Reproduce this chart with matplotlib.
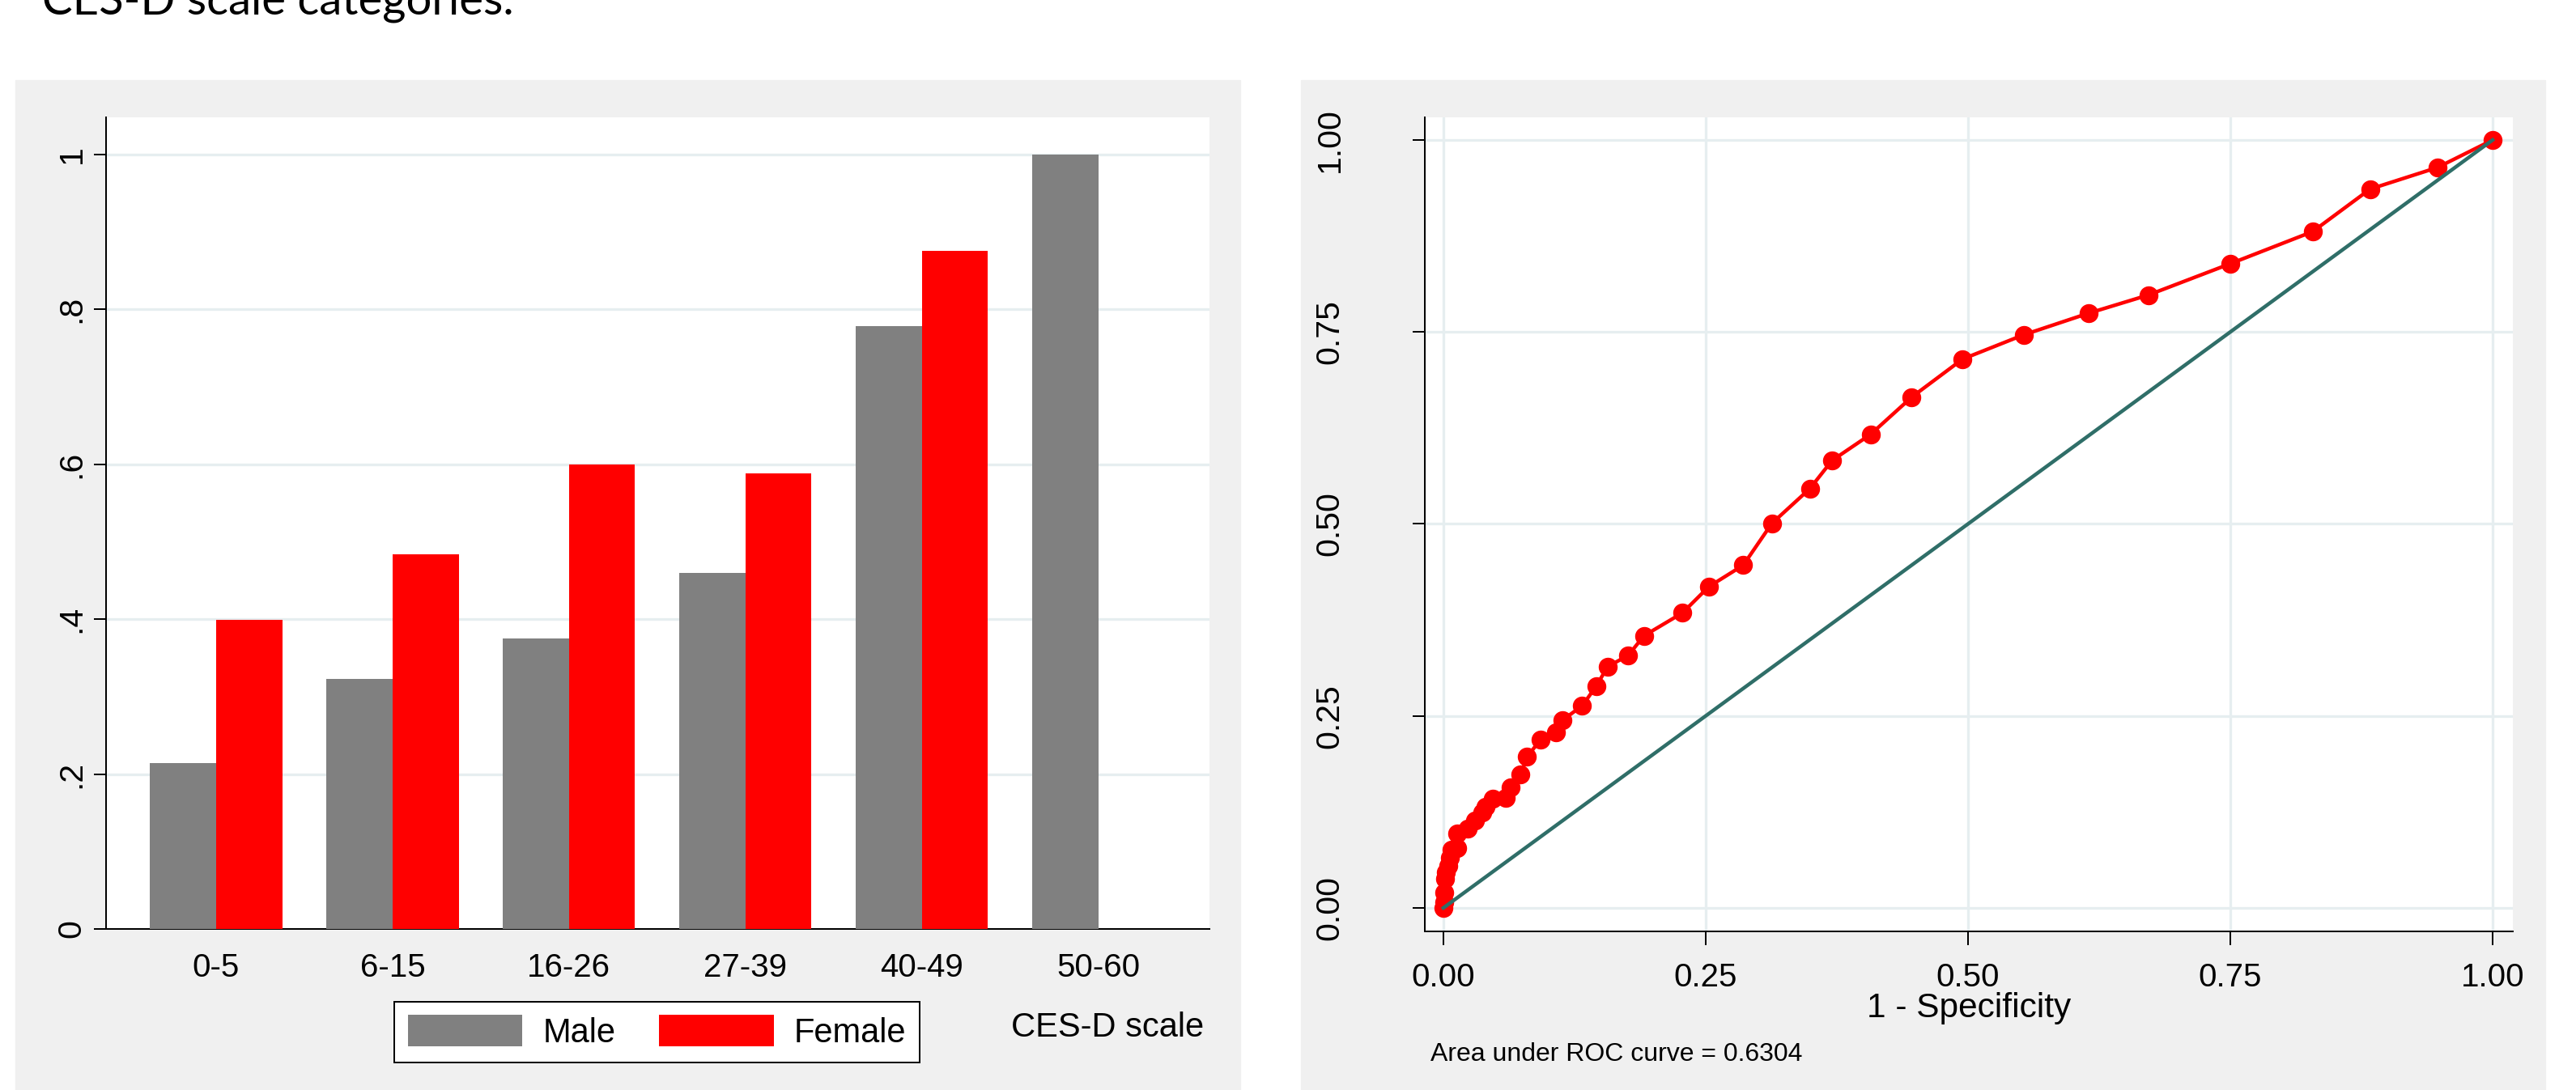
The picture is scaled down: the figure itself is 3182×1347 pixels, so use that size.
import numpy as np
import matplotlib
matplotlib.use("Agg")
import matplotlib.pyplot as plt
from matplotlib.patches import Rectangle, Patch

# data
categories = ["0-5", "6-15", "16-26", "27-39", "40-49", "50-60"]
male = [0.214, 0.323, 0.375, 0.460, 0.778, 1.0]
female = [0.399, 0.484, 0.600, 0.588, 0.876, np.nan]
y_ticks_left = [0, 0.2, 0.4, 0.6, 0.8, 1.0]
y_labels_left = ["0", ".2", ".4", ".6", ".8", "1"]

fpr = [0, 0.0008, 0.0008, 0.0016, 0.0023, 0.0047, 0.0063, 0.0078, 0.0133, 0.0133,
       0.0235, 0.0305, 0.0368, 0.0399, 0.047, 0.0595, 0.0642, 0.0736, 0.0799, 0.0924,
       0.1073, 0.1135, 0.1323, 0.1457, 0.1566, 0.1762, 0.1911, 0.2279, 0.2529, 0.2858,
       0.3132, 0.3493, 0.3704, 0.4072, 0.4464, 0.4949, 0.5529, 0.6147, 0.6719, 0.7502,
       0.8285, 0.8833, 0.9475, 1.0]
tpr = [0, 0.0077, 0.0204, 0.0375, 0.046, 0.0545, 0.0656, 0.0758, 0.0784, 0.0971,
       0.1031, 0.1141, 0.1244, 0.1312, 0.1422, 0.1430, 0.1567, 0.1738, 0.1968, 0.2189,
       0.2291, 0.2445, 0.2632, 0.2888, 0.3143, 0.3288, 0.3543, 0.3842, 0.4182, 0.4463,
       0.5009, 0.546, 0.5826, 0.6167, 0.6652, 0.7147, 0.7462, 0.7743, 0.7981, 0.839,
       0.8807, 0.9361, 0.9642, 1.0]
roc_ticks = [0, 0.25, 0.5, 0.75, 1.0]
roc_labels = ["0.00", "0.25", "0.50", "0.75", "1.00"]
auc = 0.6304

font = ["Liberation Sans", "DejaVu Sans"]

W, H = 3182, 1347
fig = plt.figure(figsize=(W / 100, H / 100), dpi=100)
fig.patch.set_facecolor("white")

panel_gray = "#f0f0f0"
grid_col = "#e6eef0"
for x0, x1 in [(19, 1532), (1607, 3144)]:
    fig.patches.append(Rectangle((x0 / W, 0), (x1 - x0) / W, 1 - 99 / H,
                                 transform=fig.transFigure, color=panel_gray, zorder=-5))

fig.text(52 / W, 1 - 18 / H, "CES-D scale categories.", fontsize=40.5,
         family=["Lato", "DejaVu Sans"], va="baseline", ha="left")

px = 72 / 100  # points per pixel

# ---- left: bar chart ----
ax1 = fig.add_axes([131 / W, 1 - 1148 / H, (1494 - 131) / W, (1148 - 145) / H])
ax1.set_facecolor("white")
x = np.arange(len(categories))
w = 0.375
ax1.bar(x - w / 2, male, w, color="#808080", label="Male", zorder=3)
ax1.bar(x + w / 2, female, w, color="#ff0000", label="Female", zorder=3)
ax1.set_xlim(-0.624, 5.631)
ax1.set_ylim(0, 1.048)
ax1.set_yticks(y_ticks_left)
ax1.set_yticklabels(y_labels_left, family=font, fontsize=29.5)
ax1.set_xticks(x)
ax1.set_xticklabels(categories, family=font, fontsize=29)
ax1.tick_params(axis="x", length=0, pad=21)
ax1.tick_params(axis="y", length=15 * px, width=2 * px, pad=6, labelrotation=90)
for lab in ax1.get_yticklabels():
    lab.set_va("center")
    lab.set_ha("right")
ax1.grid(axis="y", color=grid_col, linewidth=3.3 * px)
ax1.set_axisbelow(True)
for s in ["top", "right"]:
    ax1.spines[s].set_visible(False)
for s in ["left", "bottom"]:
    ax1.spines[s].set_linewidth(2 * px)
ax1.set_xlabel("CES-D scale", family=font, fontsize=30)
ax1.xaxis.set_label_coords((1368 - 131) / 1363, ((1 - 1270 / H) - (1 - 1148 / H)) / ((1148 - 145) / H))
ax1.xaxis.label.set_va("center")

leg = fig.legend(handles=[Patch(facecolor="#808080", label="Male"),
                          Patch(facecolor="#ff0000", label="Female")],
                 loc="center", bbox_to_anchor=(811.5 / W, 1 - 1275.5 / H), ncol=2,
                 prop={"family": font, "size": 30}, frameon=True, fancybox=False,
                 handlelength=3.4, handleheight=1.05, handletextpad=0.6,
                 columnspacing=1.3, borderpad=0.4, borderaxespad=0)
leg.get_frame().set_edgecolor("black")
leg.get_frame().set_linewidth(2 * px)
leg.get_frame().set_facecolor("white")
leg.get_frame().set_alpha(1)

# ---- right: ROC curve ----
ax2 = fig.add_axes([1760 / W, 1 - 1151 / H, (3104 - 1760) / W, (1151 - 145) / H])
ax2.set_facecolor("white")
ax2.plot(fpr, tpr, color="#ff0000", linewidth=4.5 * px, marker="o",
         markersize=22 * px, zorder=3)
ax2.plot([0, 1], [0, 1], color="#2f6e68", linewidth=4.5 * px, zorder=4)
ax2.set_xlim(-0.0177, 1.0193)
ax2.set_ylim(-0.0306, 1.0295)
ax2.set_xticks(roc_ticks)
ax2.set_xticklabels(roc_labels, family=font, fontsize=29)
ax2.set_yticks(roc_ticks)
ax2.set_yticklabels(roc_labels, family=font, fontsize=29.5)
ax2.tick_params(axis="x", length=17 * px, width=2 * px, pad=15)
ax2.tick_params(axis="y", length=15 * px, width=2 * px, pad=60, labelrotation=90)
for lab in ax2.get_yticklabels():
    lab.set_va("center")
    lab.set_ha("right")
ax2.grid(True, color=grid_col, linewidth=3.3 * px)
ax2.set_axisbelow(True)
for s in ["top", "right"]:
    ax2.spines[s].set_visible(False)
for s in ["left", "bottom"]:
    ax2.spines[s].set_linewidth(2 * px)
ax2.set_xlabel("1 - Specificity", family=font, fontsize=30.5)
ax2.xaxis.set_label_coords(0.5, ((1 - 1246 / H) - (1 - 1151 / H)) / ((1151 - 145) / H))
ax2.xaxis.label.set_va("center")

fig.text(1767 / W, 1 - 1303 / H, f"Area under ROC curve = {auc:.4f}",
         family=font, fontsize=23, va="center", ha="left")

fig.savefig("out.png", dpi=100, facecolor="white")
